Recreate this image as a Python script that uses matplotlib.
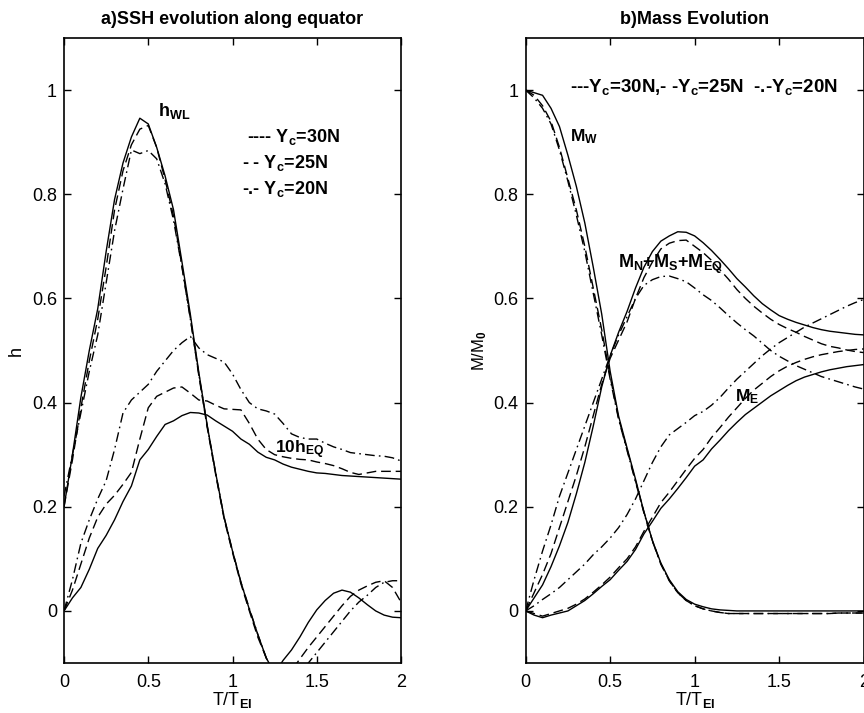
import matplotlib
matplotlib.use("Agg")
import matplotlib.pyplot as plt
from matplotlib.ticker import FormatStrFormatter

plt.rcParams['font.family'] = ['Liberation Sans', 'DejaVu Sans']
plt.rcParams['font.weight'] = 'bold'
plt.rcParams['mathtext.fontset'] = 'custom'
plt.rcParams['mathtext.rm'] = 'Liberation Sans:bold'
plt.rcParams['mathtext.it'] = 'Liberation Sans:bold'
plt.rcParams['mathtext.bf'] = 'Liberation Sans:bold'

# common time axis T/T_EI
t = [0, 0.05, 0.1, 0.15, 0.2, 0.25, 0.3, 0.35, 0.4, 0.45, 0.5, 0.55, 0.6, 0.65,
     0.7, 0.75, 0.8, 0.85, 0.9, 0.95, 1.0, 1.05, 1.1, 1.15, 1.2, 1.25, 1.3, 1.35,
     1.4, 1.45, 1.5, 1.55, 1.6, 1.65, 1.7, 1.75, 1.8, 1.85, 1.9, 1.95, 2.0]

# a) h_WL for Yc = 30N, 25N, 20N
hwl_30 = [0.2, 0.3, 0.41, 0.5, 0.58, 0.69, 0.79, 0.86, 0.91, 0.946, 0.935, 0.89, 0.835, 0.77,
          0.67, 0.569, 0.458, 0.356, 0.265, 0.18, 0.115, 0.055, 0.003, -0.045, -0.09, -0.12, -0.095, -0.075,
          -0.05, -0.022, 0.002, 0.02, 0.034, 0.04, 0.036, 0.025, 0.012, 0.0, -0.008, -0.012, -0.013]
hwl_25 = [0.2, 0.29, 0.39, 0.48, 0.56, 0.66, 0.77, 0.845, 0.895, 0.925, 0.932, 0.89, 0.828, 0.758,
          0.662, 0.562, 0.452, 0.352, 0.262, 0.177, 0.112, 0.052, 0.0, -0.05, -0.09, -0.125, -0.14, -0.115,
          -0.092, -0.07, -0.05, -0.03, -0.01, 0.01, 0.028, 0.04, 0.048, 0.055, 0.058, 0.045, 0.017]
hwl_20 = [0.22, 0.3, 0.38, 0.46, 0.53, 0.63, 0.73, 0.81, 0.885, 0.878, 0.884, 0.868, 0.82, 0.75,
          0.66, 0.56, 0.455, 0.355, 0.265, 0.18, 0.115, 0.055, 0.005, -0.045, -0.09, -0.125, -0.15, -0.15,
          -0.125, -0.1, -0.08, -0.06, -0.04, -0.02, 0.0, 0.017, 0.03, 0.045, 0.055, 0.058, 0.058]

# a) 10*h_EQ
heq_30 = [0.0, 0.025, 0.045, 0.08, 0.12, 0.145, 0.175, 0.21, 0.24, 0.29, 0.31, 0.335, 0.358, 0.365,
          0.375, 0.381, 0.38, 0.376, 0.365, 0.355, 0.345, 0.33, 0.32, 0.305, 0.295, 0.29, 0.282, 0.276,
          0.272, 0.268, 0.265, 0.264, 0.262, 0.26, 0.259, 0.258, 0.257, 0.256, 0.255, 0.254, 0.253]
heq_25 = [0.0, 0.04, 0.09, 0.14, 0.18, 0.205, 0.222, 0.243, 0.266, 0.33, 0.39, 0.412, 0.42, 0.428,
          0.43, 0.418, 0.405, 0.403, 0.395, 0.388, 0.387, 0.386, 0.36, 0.33, 0.31, 0.3, 0.296, 0.293,
          0.291, 0.29, 0.286, 0.283, 0.279, 0.273, 0.266, 0.262, 0.265, 0.268, 0.268, 0.268, 0.268]
heq_20 = [0.0, 0.06, 0.13, 0.175, 0.215, 0.25, 0.31, 0.38, 0.405, 0.42, 0.435, 0.46, 0.48, 0.5,
          0.515, 0.527, 0.505, 0.492, 0.485, 0.478, 0.455, 0.425, 0.4, 0.388, 0.384, 0.378, 0.36, 0.34,
          0.333, 0.33, 0.33, 0.322, 0.315, 0.31, 0.304, 0.302, 0.3, 0.298, 0.297, 0.294, 0.288]

# b) M_W / M0
mw_30 = [1.0, 0.995, 0.99, 0.965, 0.93, 0.875, 0.815, 0.745, 0.66, 0.57, 0.46, 0.374, 0.313, 0.253,
         0.19, 0.135, 0.092, 0.06, 0.037, 0.022, 0.013, 0.008, 0.004, 0.002, 0.001, 0.0, 0.0, 0.0,
         0.0, 0.0, 0.0, 0.0, 0.0, 0.0, 0.0, 0.0, 0.0, 0.0, 0.0, 0.0, 0.0]
mw_25 = [1.0, 0.99, 0.97, 0.94, 0.89, 0.83, 0.77, 0.7, 0.62, 0.54, 0.45, 0.37, 0.31, 0.25,
         0.19, 0.135, 0.09, 0.058, 0.035, 0.02, 0.01, 0.004, 0.0, -0.003, -0.005, -0.005, -0.005, -0.005,
         -0.005, -0.005, -0.005, -0.005, -0.005, -0.005, -0.005, -0.005, -0.005, -0.004, -0.004, -0.004, -0.004]
mw_20 = [1.0, 0.985, 0.965, 0.935, 0.885, 0.825, 0.76, 0.69, 0.61, 0.53, 0.445, 0.368, 0.308, 0.248,
         0.188, 0.134, 0.09, 0.058, 0.035, 0.02, 0.01, 0.004, 0.0, -0.003, -0.005, -0.005, -0.005, -0.005,
         -0.005, -0.005, -0.005, -0.005, -0.005, -0.005, -0.005, -0.005, -0.005, -0.004, -0.004, -0.004, -0.004]

# b) (M_N + M_S + M_EQ) / M0
mn_30 = [0.0, 0.025, 0.05, 0.085, 0.125, 0.17, 0.225, 0.285, 0.355, 0.43, 0.49, 0.535, 0.575, 0.62,
         0.66, 0.69, 0.71, 0.72, 0.728, 0.727, 0.72, 0.707, 0.692, 0.675, 0.657, 0.638, 0.622, 0.605,
         0.59, 0.578, 0.567, 0.56, 0.554, 0.549, 0.544, 0.54, 0.537, 0.535, 0.533, 0.531, 0.53]
mn_25 = [0.0, 0.035, 0.07, 0.11, 0.16, 0.21, 0.26, 0.315, 0.375, 0.435, 0.485, 0.52, 0.555, 0.6,
         0.64, 0.67, 0.695, 0.706, 0.711, 0.712, 0.7, 0.688, 0.673, 0.655, 0.637, 0.617, 0.6, 0.585,
         0.572, 0.56, 0.55, 0.542, 0.535, 0.527, 0.52, 0.513, 0.508, 0.505, 0.501, 0.498, 0.496]
mn_20 = [0.0, 0.06, 0.115, 0.165, 0.22, 0.265, 0.31, 0.355, 0.4, 0.445, 0.49, 0.53, 0.565, 0.6,
         0.625, 0.636, 0.642, 0.643, 0.638, 0.632, 0.62, 0.607, 0.596, 0.582, 0.567, 0.553, 0.54, 0.528,
         0.514, 0.5, 0.489, 0.48, 0.471, 0.464, 0.457, 0.45, 0.445, 0.44, 0.435, 0.43, 0.426]

# b) M_E / M0
me_30 = [0.0, -0.008, -0.013, -0.008, -0.004, 0.0, 0.01, 0.02, 0.033, 0.047, 0.06, 0.078, 0.095, 0.118,
         0.148, 0.172, 0.197, 0.215, 0.235, 0.256, 0.278, 0.29, 0.311, 0.328, 0.346, 0.362, 0.377, 0.389,
         0.401, 0.413, 0.423, 0.433, 0.442, 0.449, 0.454, 0.459, 0.463, 0.466, 0.469, 0.471, 0.473]
me_25 = [0.0, -0.005, -0.01, -0.005, 0.0, 0.005, 0.013, 0.023, 0.036, 0.05, 0.065, 0.083, 0.1, 0.123,
         0.153, 0.18, 0.208, 0.228, 0.25, 0.272, 0.293, 0.31, 0.333, 0.352, 0.372, 0.39, 0.408, 0.424,
         0.437, 0.45, 0.461, 0.47, 0.477, 0.483, 0.488, 0.492, 0.495, 0.498, 0.5, 0.502, 0.503]
me_20 = [0.0, 0.01, 0.022, 0.033, 0.045, 0.06, 0.075, 0.09, 0.108, 0.123, 0.14, 0.16, 0.185, 0.215,
         0.25, 0.285, 0.315, 0.338, 0.35, 0.362, 0.375, 0.383, 0.395, 0.41, 0.428, 0.445, 0.46, 0.475,
         0.49, 0.503, 0.515, 0.525, 0.535, 0.545, 0.553, 0.561, 0.569, 0.577, 0.585, 0.592, 0.598]

xticks = [0, 0.5, 1, 1.5, 2]
yticks = [0, 0.2, 0.4, 0.6, 0.8, 1]

DASH = (0, (7, 3.5))
DASHDOT = (0, (7, 3, 1.2, 3))
styles = ['-', DASH, DASHDOT]


def style_axes(ax):
    ax.set_xlim(0, 2)
    ax.set_ylim(-0.1, 1.1)
    ax.set_xticks(xticks)
    ax.set_yticks(yticks)
    ax.xaxis.set_major_formatter(FormatStrFormatter('%g'))
    ax.yaxis.set_major_formatter(FormatStrFormatter('%g'))
    ax.tick_params(direction='in', length=5, width=1, top=True, right=True,
                   labelsize=13, pad=5)
    ax.tick_params(axis='x', pad=8)
    for lab in ax.get_xticklabels() + ax.get_yticklabels():
        lab.set_fontweight('normal')
    for sp in ax.spines.values():
        sp.set_linewidth(1.2)


fig = plt.figure(figsize=(8.64, 7.13), dpi=100)
ax1 = fig.add_axes([0.0741, 0.0701, 0.3900, 0.8766])
ax2 = fig.add_axes([0.6084, 0.0701, 0.3912, 0.8766])

for ys, ls in zip([hwl_30, hwl_25, hwl_20], styles):
    ax1.plot(t, ys, color='black', lw=1.0, linestyle=ls)
for ys, ls in zip([heq_30, heq_25, heq_20], styles):
    ax1.plot(t, ys, color='black', lw=1.0, linestyle=ls)
style_axes(ax1)
ax1.set_title('a)SSH evolution along equator', fontsize=13, fontweight='bold', pad=10)
ax1.set_xlabel('T/T$_{EI}$', fontsize=13, labelpad=-1)
ax1.set_ylabel('h', fontsize=13, labelpad=5)
ax1.text(0.558, 0.96, 'h$_{WL}$', fontsize=13, va='center')
ax1.text(1.252, 0.31, '10h$_{EQ}$', fontsize=12.5, va='center')
ax1.text(1.086, 0.91, '---- Y$_c$=30N', fontsize=13, va='center')
ax1.text(1.056, 0.86, '- - Y$_c$=25N', fontsize=13, va='center')
ax1.text(1.056, 0.81, '-.- Y$_c$=20N', fontsize=13, va='center')

for group in ([mw_30, mw_25, mw_20], [mn_30, mn_25, mn_20], [me_30, me_25, me_20]):
    for ys, ls in zip(group, styles):
        ax2.plot(t, ys, color='black', lw=1.0, linestyle=ls)
style_axes(ax2)
ax2.set_title('b)Mass Evolution', fontsize=13, fontweight='bold', pad=10)
ax2.set_xlabel('T/T$_{EI}$', fontsize=13, labelpad=-1)
ax2.set_ylabel('M/M$_0$', fontsize=12, labelpad=3)
ax2.text(0.262, 1.005, '---Y$_c$=30N,- -Y$_c$=25N  -.-Y$_c$=20N', fontsize=13.5, va='center')
ax2.text(0.262, 0.91, 'M$_W$', fontsize=12.5, va='center')
ax2.text(0.549, 0.665, 'M$_N$+M$_S$+M$_{EQ}$', fontsize=13, va='center')
ax2.text(1.237, 0.412, 'M$_E$', fontsize=12.5, va='center')

fig.savefig('out.png', dpi=100)
